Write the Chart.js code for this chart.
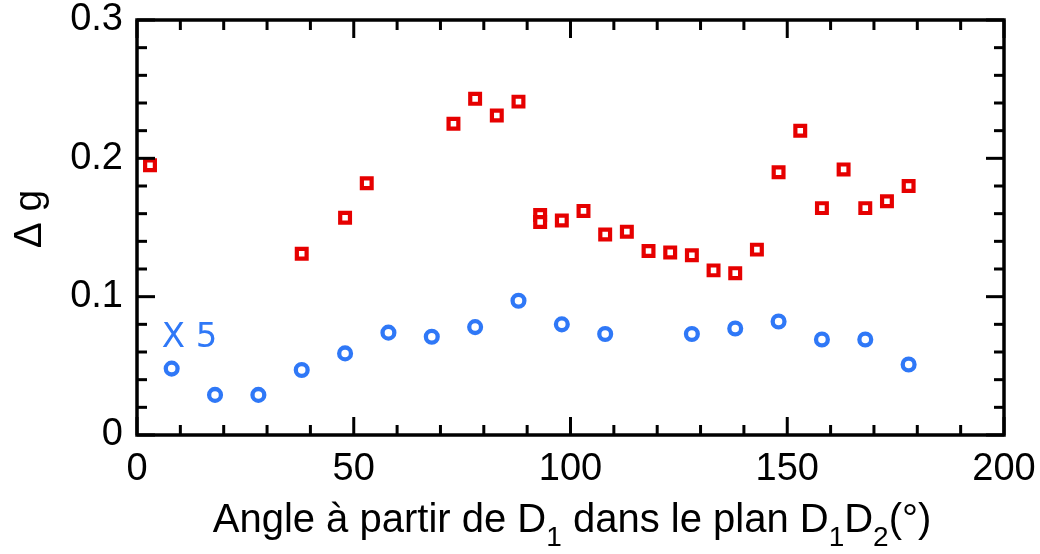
<!DOCTYPE html>
<html>
<head>
<meta charset="utf-8">
<script src="https://cdn.jsdelivr.net/npm/chart.js@4/dist/chart.umd.min.js"></script>
<style>
  html, body { margin: 0; padding: 0; background: #ffffff; }
  #wrap { width: 1040px; height: 554px; }
</style>
</head>
<body>
<div id="wrap"><canvas id="c" width="1040" height="554"></canvas></div>
<script>
// ---- data ----
const redAngles = [3, 38, 48, 53, 73, 78, 83, 88, 93, 93, 98, 103, 108, 113, 118, 123, 128, 133, 138, 143, 148, 153, 158, 163, 168, 173, 178];
const redValues = [0.195, 0.131, 0.157, 0.182, 0.225, 0.243, 0.231, 0.241, 0.159, 0.154, 0.155, 0.162, 0.145, 0.147, 0.133, 0.132, 0.130, 0.119, 0.117, 0.134, 0.190, 0.220, 0.164, 0.192, 0.164, 0.169, 0.180];

const blueAngles = [8, 18, 28, 38, 48, 58, 68, 78, 88, 98, 108, 128, 138, 148, 158, 168, 178];
const blueValues = [0.048, 0.029, 0.029, 0.047, 0.059, 0.074, 0.071, 0.078, 0.097, 0.080, 0.073, 0.073, 0.077, 0.082, 0.069, 0.069, 0.051];

const xTickLabels = [0, 50, 100, 150, 200];
const yTickLabels = [0, 0.1, 0.2, 0.3];

const xTitleParts = [['Angle à partir de D', false], ['1', true], [' dans le plan D', false], ['1', true], ['D', false], ['2', true], ['(°)', false]];
const yTitleText = 'Δ g';
const blueNote = 'X 5';
const blueNoteAt = [5.7, 0.0635];

// ---- styling ----
const RED = '#e60000';
const BLUE = '#2f78f7';
const TICK_FONT = '"Liberation Sans", Arial, sans-serif';

const pairs = (xs, ys) => xs.map((v, i) => ({ x: v, y: ys[i] }));
const near = (v, list) => list.some(t => Math.abs(v - t) < 1e-9);

const decorations = {
  id: 'decorations',
  afterDraw(chart) {
    const { ctx, chartArea: a, scales: { x, y } } = chart;
    ctx.save();
    ctx.strokeStyle = '#000';
    ctx.lineWidth = 3;
    ctx.lineCap = 'butt';
    const seg = (x1, y1, x2, y2) => { ctx.beginPath(); ctx.moveTo(x1, y1); ctx.lineTo(x2, y2); ctx.stroke(); };
    x.ticks.forEach(t => {
      const px = x.getPixelForValue(t.value);
      const L = near(t.value, xTickLabels) ? 18 : 10;
      seg(px, a.bottom, px, a.bottom - L);
      seg(px, a.top, px, a.top + L);
    });
    y.ticks.forEach(t => {
      const py = y.getPixelForValue(t.value);
      const L = near(t.value, yTickLabels) ? 18 : 10;
      seg(a.left, py, a.left + L, py);
      seg(a.right, py, a.right - L, py);
    });
    ctx.lineWidth = 3.5;
    ctx.strokeRect(a.left, a.top, a.right - a.left, a.bottom - a.top);

    // note "X 5" for the blue series
    ctx.fillStyle = BLUE;
    ctx.font = '34px "DejaVu Sans", sans-serif';
    ctx.textAlign = 'left';
    ctx.textBaseline = 'alphabetic';
    ctx.fillText(blueNote, x.getPixelForValue(blueNoteAt[0]), y.getPixelForValue(blueNoteAt[1]));

    // x axis title with subscripts
    ctx.fillStyle = '#000';
    const big = '40px ' + TICK_FONT, small = '28px ' + TICK_FONT;
    let total = 0;
    xTitleParts.forEach(([t, sub]) => { ctx.font = sub ? small : big; total += ctx.measureText(t).width; });
    let cx = 572 - total / 2;
    const base = 532;
    xTitleParts.forEach(([t, sub]) => {
      ctx.font = sub ? small : big;
      ctx.fillText(t, cx, sub ? base + 14 : base);
      cx += ctx.measureText(t).width;
    });

    // y axis title
    ctx.save();
    ctx.translate(41, 219);
    ctx.rotate(-Math.PI / 2);
    ctx.font = '39px ' + TICK_FONT;
    ctx.textAlign = 'center';
    ctx.textBaseline = 'alphabetic';
    ctx.fillText(yTitleText, 0, 0);
    ctx.restore();
    ctx.restore();
  }
};

new Chart(document.getElementById('c'), {
  type: 'scatter',
  data: {
    datasets: [
      {
        label: 'red',
        data: pairs(redAngles, redValues),
        pointStyle: 'rect',
        radius: 6.9,
        borderWidth: 4.2,
        borderColor: RED,
        backgroundColor: '#ffffff'
      },
      {
        label: 'blue',
        data: pairs(blueAngles, blueValues),
        pointStyle: 'circle',
        radius: 5.9,
        borderWidth: 4.3,
        borderColor: BLUE,
        backgroundColor: '#ffffff'
      }
    ]
  },
  options: {
    responsive: false,
    animation: false,
    events: [],
    layout: { padding: { left: 0, right: 36, top: 20, bottom: 0 } },
    plugins: { legend: { display: false }, tooltip: { enabled: false } },
    scales: {
      x: {
        type: 'linear',
        min: 0, max: 200,
        grid: { display: false, drawTicks: false },
        border: { display: false },
        ticks: {
          stepSize: 10,
          autoSkip: false,
          maxRotation: 0,
          padding: 16,
          color: '#000',
          font: { family: TICK_FONT, size: 38, lineHeight: 1 },
          callback: v => near(v, xTickLabels) ? String(v) : ''
        },
        afterFit: s => { s.height = 119; s.paddingLeft = 0; s.paddingRight = 0; }
      },
      y: {
        type: 'linear',
        min: 0, max: 0.3,
        grid: { display: false, drawTicks: false },
        border: { display: false },
        ticks: {
          stepSize: 0.02,
          autoSkip: false,
          padding: 14,
          color: '#000',
          font: { family: TICK_FONT, size: 38, lineHeight: 1 },
          callback: v => near(v, yTickLabels) ? String(+v.toFixed(2)) : ''
        },
        afterFit: s => { s.width = 137; s.paddingTop = 0; s.paddingBottom = 0; }
      }
    }
  },
  plugins: [decorations]
});
</script>
</body>
</html>
